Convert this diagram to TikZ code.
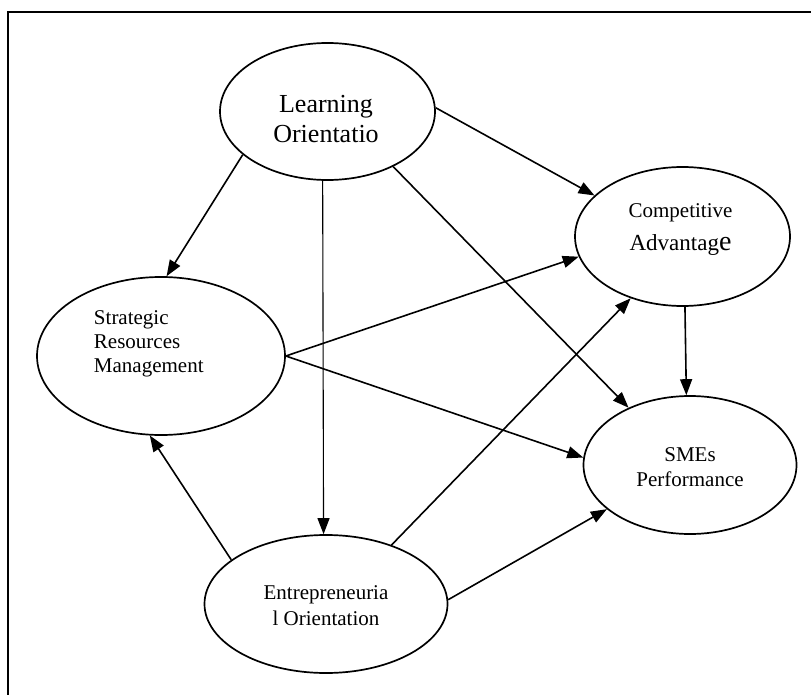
\documentclass[tikz,border=0pt]{standalone}
\usepackage{fontspec}
\setmainfont{Liberation Serif}
\usetikzlibrary{shapes,arrows.meta}

\begin{document}
\begin{tikzpicture}[
    x=1pt, y=-1pt,
    construct/.style={ellipse, draw, line width=1.7pt, inner sep=0pt},
    txt/.style={inner sep=0pt, align=center, font=\fontsize{21}{25}\selectfont},
    arrow/.style={-{Triangle[length=16pt, width=12pt]}, line width=1.6pt},
    thinarrow/.style={arrow, line width=1.1pt}
]
\useasboundingbox (0,0) rectangle (811,695);

% Frame
\draw[line width=1.8pt] (8,695) -- (8,12) -- (811,12);

% Constructs
\node[construct, minimum width=215pt, minimum height=137pt,
      label={[txt, font=\fontsize{26}{30}\selectfont, xshift=-1.5pt, yshift=-7.6pt]center:{Learning\\Orientatio}}]
      (learning) at (327.5,111.5) {};
\node[construct, minimum width=215pt, minimum height=139pt,
      label={[txt, xshift=-2pt, yshift=6.6pt]center:{Competitive\\[8pt]{\fontsize{23}{25}\selectfont Advantag{\fontsize{28}{30}\selectfont e}}}}]
      (advantage) at (682.5,236.5) {};
\node[construct, minimum width=248pt, minimum height=158pt,
      label={[txt, align=left, font=\fontsize{21}{24}\selectfont, xshift=-12.2pt, yshift=11.8pt]center:{Strategic\\Resources\\Management}}]
      (resources) at (161,356) {};
\node[construct, minimum width=213pt, minimum height=138pt,
      label={[txt, yshift=-2.6pt]center:{SMEs\\Performance}}]
      (performance) at (690,465) {};
\node[construct, minimum width=243pt, minimum height=138pt,
      label={[txt, font=\fontsize{21}{26}\selectfont, yshift=-1.9pt]center:{Entrepreneuria\\l Orientation}}]
      (entrepreneurial) at (326,604) {};

% Learning orientation paths
\draw[arrow] (learning.207) -- (resources.86);
\draw[thinarrow] (learning.266.2) -- (entrepreneurial.92.5);
\draw[arrow] (learning.320) -- (performance.137.6);
\draw[arrow] (learning.2.4) -- (advantage.155.9);

% Strategic resources paths
\draw[arrow] (resources.0) -- (advantage.191.6);
\draw[arrow] (resources.0) -- (performance.176.2);

% Competitive advantage to performance
\draw[arrow] (advantage.272.5) -- (performance.93.7);

% Entrepreneurial orientation paths
\draw[arrow] (entrepreneurial.155.6) -- (resources.262.1);
\draw[arrow] (entrepreneurial.42.9) -- (advantage.230.5);
\draw[arrow] (entrepreneurial.2) -- (performance.208.5);

\end{tikzpicture}
\end{document}
